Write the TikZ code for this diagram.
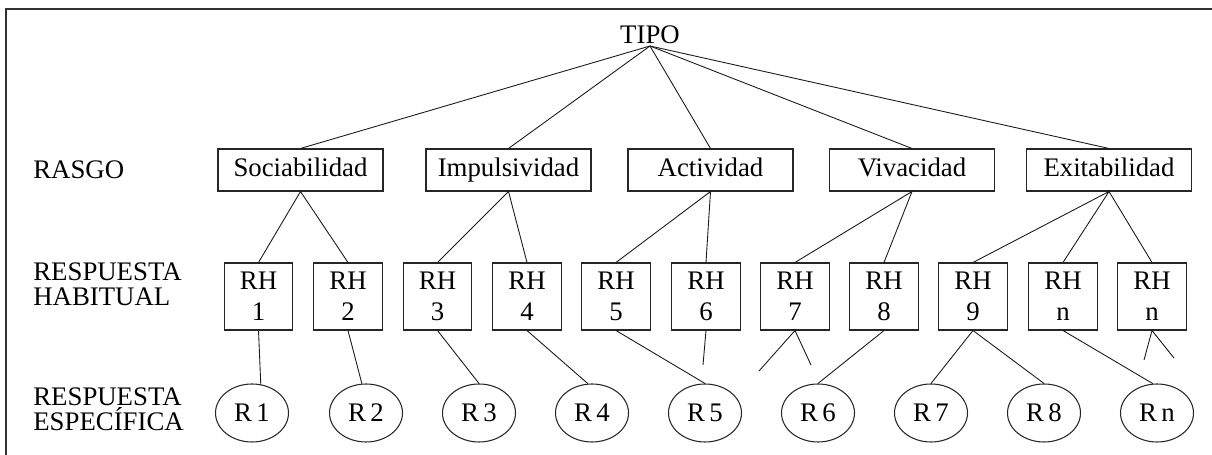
\documentclass[tikz,border=0pt]{standalone}
\usepackage{fontspec}
\setmainfont{Liberation Serif}
\usetikzlibrary{shapes.geometric}

\begin{document}
\begin{tikzpicture}[font=\fontsize{15.25}{17.6}\selectfont,
rasgo/.style={rectangle,draw=black!85,line width=0.6pt,minimum width=3.3cm,minimum height=0.84cm,inner sep=0pt,text height=0.74em,text depth=0pt},
habitual/.style={rectangle,draw=black!85,line width=0.6pt,minimum width=1.37cm,minimum height=1.34cm,inner sep=0pt,align=center},
especifica/.style={ellipse,draw=black!85,line width=0.6pt,minimum width=1.46cm,minimum height=1.16cm,inner sep=0pt},
nivel/.style={anchor=west,align=left,inner sep=0pt,font=\fontsize{15.25}{14.2}\selectfont},
rama/.style={draw=black!90,line width=0.5pt}]
\useasboundingbox (0,0) rectangle (24.24,9.1);
%marco
\draw[black!80,line width=1.2pt](24.24,8.92)--(0.12,8.92)--(0.12,0);
%niveles
\path (13.0,8.18) node(tipo)[anchor=south,inner sep=1pt]{TIPO}
(0.66,5.70) node(lrasgo)[nivel]{RASGO}
(0.66,3.42) node(lhab)[nivel]{RESPUESTA\\HABITUAL}
(0.66,0.92) node(lesp)[nivel]{RESPUESTA\\ESPECÍFICA}
%rasgos
(6.01,5.70) node(soc)[rasgo]{Sociabilidad}
(10.17,5.70) node(imp)[rasgo]{Impulsividad}
(14.21,5.70) node(act)[rasgo]{Actividad}
(18.24,5.70) node(viv)[rasgo]{Vivacidad}
(22.18,5.70) node(exi)[rasgo]{Exitabilidad}
%respuestas habituales
(5.17,3.17) node(rh1)[habitual]{RH\\1}
(6.96,3.17) node(rh2)[habitual]{RH\\2}
(8.75,3.17) node(rh3)[habitual]{RH\\3}
(10.54,3.17) node(rh4)[habitual]{RH\\4}
(12.32,3.17) node(rh5)[habitual]{RH\\5}
(14.12,3.17) node(rh6)[habitual]{RH\\6}
(15.90,3.17) node(rh7)[habitual]{RH\\7}
(17.68,3.17) node(rh8)[habitual]{RH\\8}
(19.46,3.17) node(rh9)[habitual]{RH\\9}
(21.26,3.17) node(rhn)[habitual]{RH\\n}
(23.04,3.17) node(rhm)[habitual]{RH\\n}
%respuestas especificas
(5.04,0.84) node(r1)[especifica]{R\,1}
(7.32,0.84) node(r2)[especifica]{R\,2}
(9.58,0.84) node(r3)[especifica]{R\,3}
(11.84,0.84) node(r4)[especifica]{R\,4}
(14.10,0.84) node(r5)[especifica]{R\,5}
(16.36,0.84) node(r6)[especifica]{R\,6}
(18.62,0.84) node(r7)[especifica]{R\,7}
(20.88,0.84) node(r8)[especifica]{R\,8}
(23.14,0.84) node(rn)[especifica]{R\,n};
%extremos libres
\coordinate (c6) at (14.06,1.80);
\coordinate (c7a) at (15.18,1.68);
\coordinate (c7b) at (16.22,1.80);
\coordinate (cma) at (22.88,1.90);
\coordinate (cmb) at (23.48,1.94);
%ramas
\draw[rama](tipo.south)--(soc.north);
\draw[rama](tipo.south)--(imp.north);
\draw[rama](tipo.south)--(act.north);
\draw[rama](tipo.south)--(viv.north);
\draw[rama](tipo.south)--(exi.north);
\draw[rama](rh1.north)--(soc.south)--(rh2.north);
\draw[rama](rh3.north)--(imp.south)--(rh4.north);
\draw[rama](rh5.north)--(act.south)--(rh6.north);
\draw[rama](rh7.north)--(viv.south)--(rh8.north);
\draw[rama](rh9.north)--(exi.south)--(rhn.north);
\draw[rama](exi.south)--(rhm.north);
\draw[rama](rh1.south)--(r1.73);
\draw[rama](rh2.south)--(r2.98);
\draw[rama](rh3.south)--(r3.north);
\draw[rama](rh4.south)--(r4.98);
\draw[rama](rh5.south)--(r5.north);
\draw[rama](rh6.south)--(c6);
\draw[rama](c7a)--(rh7.south)--(c7b);
\draw[rama](rh8.south)--(r6.north);
\draw[rama](r7.north)--(rh9.south)--(r8.north);
\draw[rama](rhn.south)--(rn.98);
\draw[rama](cma)--(rhm.south)--(cmb);
\end{tikzpicture}
\end{document}
